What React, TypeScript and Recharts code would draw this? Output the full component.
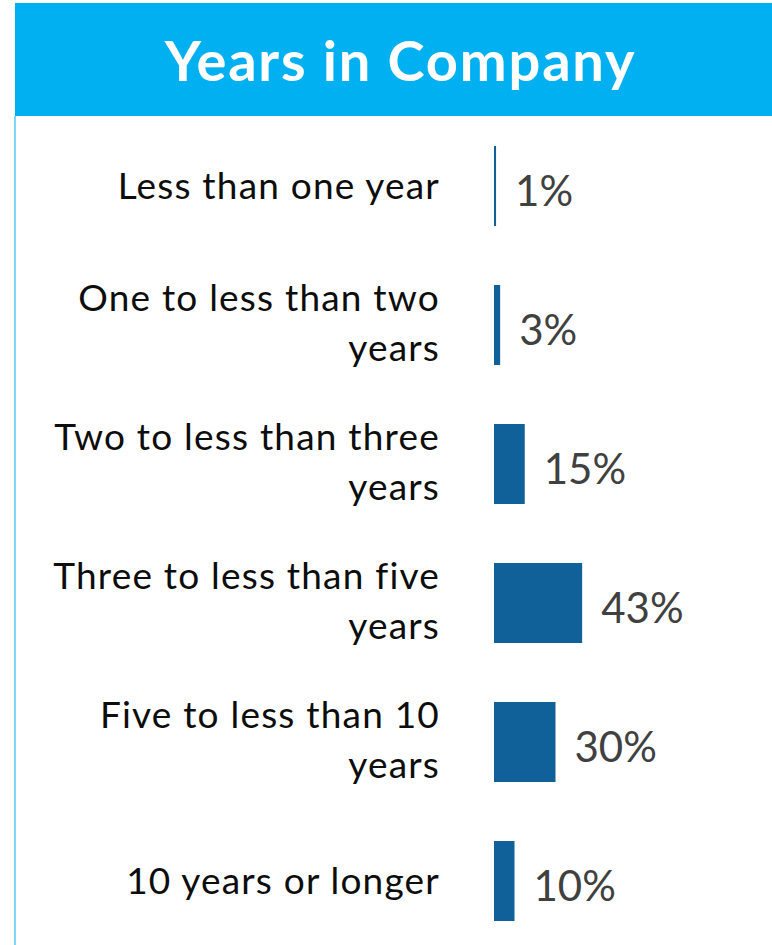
import { BarChart, Bar, XAxis, YAxis, LabelList } from 'recharts';

const categories = [
    'Less than one year',
    'One to less than two years',
    'Two to less than three years',
    'Three to less than five years',
    'Five to less than 10 years',
    '10 years or longer',
];
const shares = [1, 3, 15, 43, 30, 10];

const chartData = categories.map((category, i) => ({ category, value: shares[i] }));

const FONT = 'Lato, "Open Sans", sans-serif';

// long labels break before the last word, like the original slide
const splitLabel = (text: string) => {
    if (text.length <= 20) return [text];
    const cut = text.lastIndexOf(' ');
    return [text.slice(0, cut), text.slice(cut + 1)];
};

const CategoryTick = ({ x, y, payload }: any) => {
    const lines = splitLabel(payload.value);
    const first = lines.length === 1 ? 13 : -14;
    return (
        <text x={x} y={y} textAnchor="end" fill="#0d0d0d" fontFamily={FONT} fontSize={37} letterSpacing={1.2}>
            {lines.map((line, i) => (
                <tspan key={i} x={x} y={y + first + i * 50}>
                    {line}
                </tspan>
            ))}
        </text>
    );
};

const ValueLabel = ({ x, y, width, height, value }: any) => (
    <text x={x + width + 19} y={y + height / 2 + 20} fill="#404040" fontFamily={FONT} fontSize={42}>
        {value}%
    </text>
);

const App = () => {
    return (
        <div style={{ position: 'absolute', left: 0, top: 0, width: 772, height: 945, overflow: 'hidden', background: '#fff' }}>
            <div
                style={{
                    position: 'absolute',
                    left: 15,
                    top: 3,
                    width: 757,
                    height: 113,
                    background: '#00b0f0',
                    color: '#fff',
                    fontFamily: FONT,
                    fontWeight: 700,
                    fontSize: 56,
                    letterSpacing: 1.8,
                    lineHeight: '113px',
                    textAlign: 'center',
                    paddingLeft: 14,
                    boxSizing: 'border-box',
                }}
            >
                Years in Company
            </div>
            <div style={{ position: 'absolute', left: 14, top: 116, width: 2, height: 829, background: '#7fd7f7' }} />
            <BarChart
                width={772}
                height={950}
                layout="vertical"
                data={chartData}
                margin={{ top: 116, right: 73, left: 14, bottom: 0 }}
            >
                <XAxis type="number" domain={[0, 100]} hide />
                <YAxis
                    type="category"
                    dataKey="category"
                    width={480}
                    axisLine={false}
                    tickLine={false}
                    tickSize={0}
                    tickMargin={54}
                    tick={<CategoryTick />}
                    interval={0}
                />
                <Bar dataKey="value" fill="#10619a" barSize={80} isAnimationActive={false}>
                    <LabelList dataKey="value" content={<ValueLabel />} />
                </Bar>
            </BarChart>
        </div>
    );
};

export default App;
